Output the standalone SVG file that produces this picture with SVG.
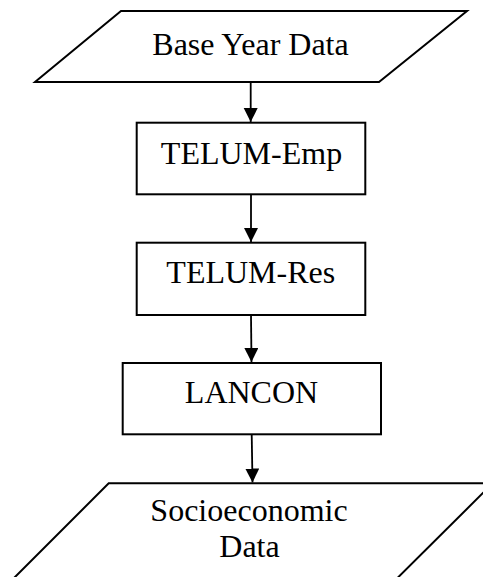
<svg xmlns="http://www.w3.org/2000/svg" width="483" height="577" viewBox="0 0 483 577">
<style>
.s{fill:#fff;stroke:#000;stroke-width:2}
.t{font-family:"Liberation Serif","Times New Roman",serif;font-size:32px;fill:#000;text-anchor:middle}
.c{stroke:#000;stroke-width:1.8;fill:none}
</style>
<defs>
<marker id="ah" markerUnits="userSpaceOnUse" markerWidth="14" markerHeight="15" refX="14" refY="7" orient="auto">
<path d="M0,0 L14,7 L0,14 Z" fill="#000"/>
</marker>
</defs>
<rect width="483" height="577" fill="#fff"/>
<g id="n1">
<polygon class="s" points="121,11 467,11 379,82 35,82"/>
<text class="t" x="250.5" y="55">Base Year Data</text>
</g>
<g id="n2">
<rect class="s" x="136.7" y="122.7" width="228.6" height="71.6"/>
<text class="t" x="251.5" y="164">TELUM-Emp</text>
</g>
<g id="n3">
<rect class="s" x="136.7" y="242.7" width="228.6" height="72.3"/>
<text class="t" x="250.8" y="283">TELUM-Res</text>
</g>
<g id="n4">
<rect class="s" x="122.7" y="363" width="258.3" height="71.3"/>
<text class="t" x="251.5" y="403.3">LANCON</text>
</g>
<g id="n5">
<polygon class="s" points="108.7,483.3 492.7,483.3 375.3,600 -8,600"/>
<text class="t" x="249" y="520.7">Socioeconomic</text>
<text class="t" x="249.5" y="557.3">Data</text>
</g>
<g id="connectors">
<line class="c" x1="250.7" y1="82" x2="250.7" y2="122" marker-end="url(#ah)"/>
<line class="c" x1="251" y1="194.3" x2="251" y2="242" marker-end="url(#ah)"/>
<line class="c" x1="251" y1="315" x2="251.5" y2="362" marker-end="url(#ah)"/>
<line class="c" x1="251.7" y1="434.3" x2="252.5" y2="482.5" marker-end="url(#ah)"/>
</g>
</svg>
